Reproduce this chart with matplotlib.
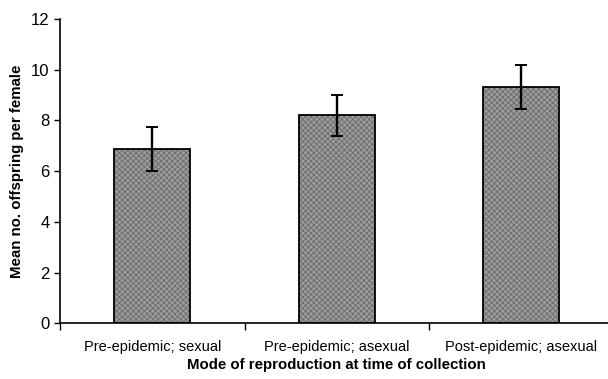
import matplotlib
matplotlib.use('Agg')
import matplotlib.pyplot as plt
import numpy as np

plt.rcParams['font.family'] = ['Liberation Sans', 'DejaVu Sans']
plt.rcParams['hatch.linewidth'] = 0.6

groups = ['Pre-epidemic; sexual', 'Pre-epidemic; asexual', 'Post-epidemic; asexual']
means = [6.87, 8.21, 9.32]
errs = [0.87, 0.81, 0.87]

fig = plt.figure(figsize=(6.08, 3.79), dpi=100)
ax = fig.add_axes([60/608, 1 - 323.3/379, 553.5/608, 304.3/379])

x = np.arange(len(groups))
# fill with fine dither-like hatch, then the black outline on top
ax.bar(x, means, width=0.41, color='#9c9c9c', edgecolor='#6a6a6a', linewidth=0,
       hatch='xxxxxx', zorder=2)
ax.bar(x, means, width=0.41, fill=False, edgecolor='black', linewidth=1.3, zorder=2.5)
ax.errorbar(x, means, yerr=errs, fmt='none', ecolor='black', elinewidth=1.7,
            capsize=4.5, capthick=1.4, zorder=3)

ax.set_xlim(-0.5, 2.5)
ax.set_ylim(0, 12)
ax.set_yticks(np.arange(0, 13, 2))
ax.set_xticks(x)
ax.set_xticklabels(groups, fontsize=10.5)
ax.set_xticks([-0.5, 0.5, 1.5, 2.5], minor=True)
ax.tick_params(axis='x', which='major', length=0, pad=12)
ax.tick_params(axis='x', which='minor', length=5, width=1, direction='out')
ax.tick_params(axis='y', labelsize=12, length=4, width=1, direction='out')

for s in ['top', 'right']:
    ax.spines[s].set_visible(False)
for s in ['left', 'bottom']:
    ax.spines[s].set_linewidth(1.2)

ax.set_ylabel('Mean no. offspring per female', fontsize=10.8, fontweight='bold', labelpad=5)
ax.set_xlabel('Mode of reproduction at time of collection', fontsize=10.8,
              fontweight='bold', labelpad=3)

fig.savefig('out.png', dpi=100)
